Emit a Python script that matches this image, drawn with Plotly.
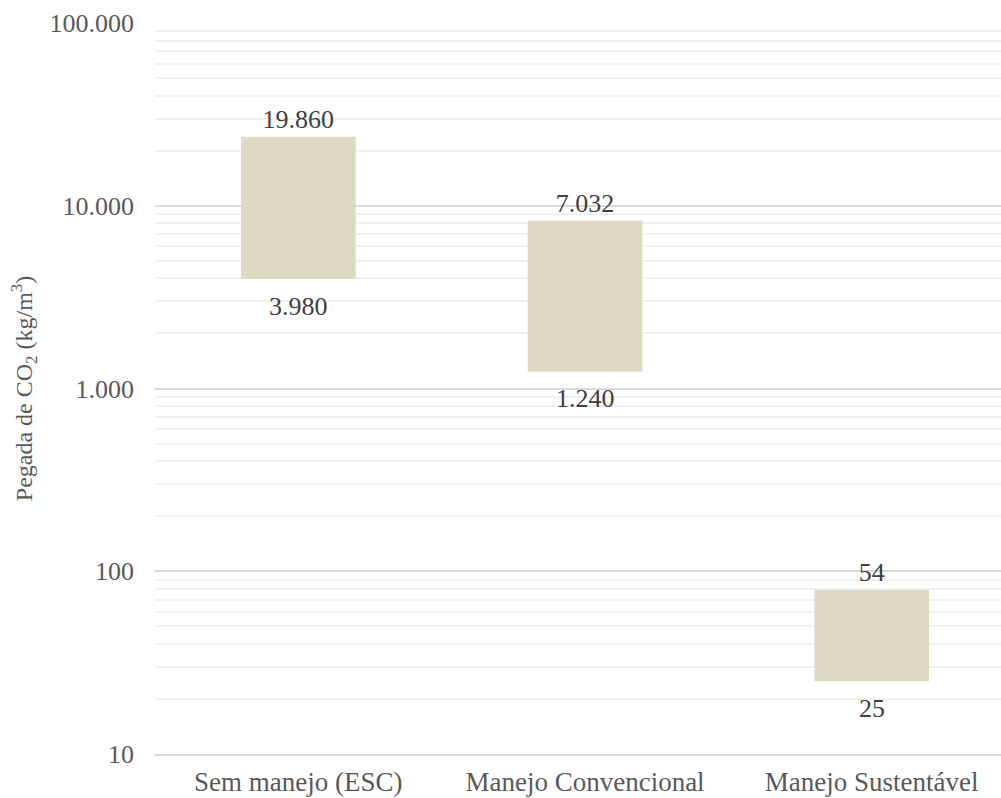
import math
import plotly.graph_objects as go

# Carbon footprint range per management scenario (kg CO2 per m3)
categories = ["Sem manejo (ESC)", "Manejo Convencional", "Manejo Sustentável"]
min_values = [3980, 1240, 25]          # lower end of each range
range_values = [19860, 7032, 54]       # size of each floating bar above the lower end


def fmt(v):
    return f"{v:,}".replace(",", ".")


serif = "Liberation Serif, Times New Roman, serif"
label_color = "#404040"
axis_color = "#595959"

fig = go.Figure()

fig.add_trace(go.Bar(
    x=categories,
    y=range_values,
    base=min_values,
    width=0.40,
    marker=dict(color="#DDD9C3", line=dict(width=0)),
    text=[fmt(v) for v in range_values],
    textposition="outside",
    textfont=dict(family=serif, size=26, color=label_color),
    cliponaxis=False,
    hoverinfo="skip",
))

# Lower-end labels under each bar (log axis: annotation y is given in log10 units)
for cat, v in zip(categories, min_values):
    fig.add_annotation(
        x=cat,
        y=math.log10(v),
        text=fmt(v),
        showarrow=False,
        yanchor="top",
        yshift=-11,
        font=dict(family=serif, size=26, color=label_color),
    )

fig.update_layout(
    width=1001,
    height=798,
    margin=dict(l=155, r=0, t=23, b=44),
    paper_bgcolor="white",
    plot_bgcolor="white",
    showlegend=False,
    separators=",.",
    font=dict(family=serif, size=26, color=axis_color),
)

fig.update_xaxes(
    type="category",
    range=[-0.5, 2.451],
    automargin=False,
    showgrid=False,
    showline=True,
    linecolor="#d9d9d9",
    linewidth=2,
    ticks="",
    ticklabelstandoff=3,
    tickfont=dict(family=serif, size=27, color=axis_color),
)

fig.update_yaxes(
    type="log",
    range=[1, 5],
    automargin=False,
    dtick=1,
    tickformat=",d",
    showgrid=True,
    gridcolor="#d9d9d9",
    gridwidth=1.5,
    zeroline=False,
    showline=False,
    ticks="",
    ticklabelstandoff=20,
    tickfont=dict(family=serif, size=26, color=axis_color),
    minor=dict(dtick="D1", showgrid=True, gridcolor="#f0f0f0", gridwidth=1.5),
    title=dict(
        text="Pegada de CO<sub>2</sub> (kg/m<sup>3</sup>)",
        font=dict(family=serif, size=24, color=axis_color),
        standoff=10,
    ),
)

fig.write_html("out.html")
